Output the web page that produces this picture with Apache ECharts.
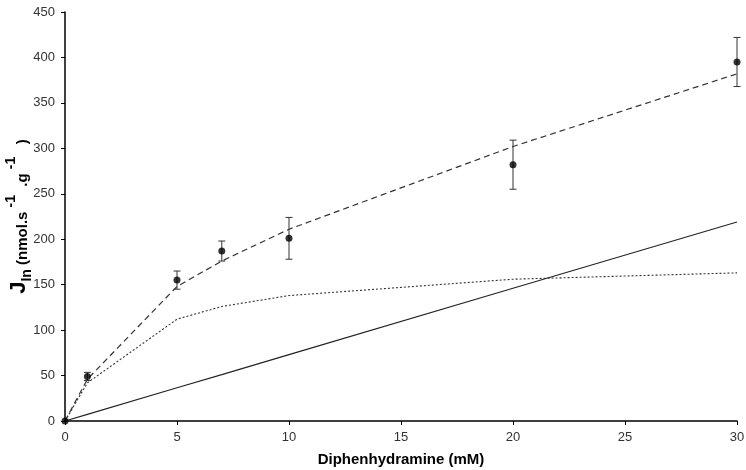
<!DOCTYPE html>
<html><head><meta charset="utf-8">
<script src="https://cdn.jsdelivr.net/npm/echarts@6/dist/echarts.min.js"></script>
<style>html,body{margin:0;padding:0;background:#fff}#c{width:746px;height:470px}</style>
</head><body><div id="c"></div>
<script>
const xTicks = [0, 5, 10, 15, 20, 25, 30];
const yTicks = [0, 50, 100, 150, 200, 250, 300, 350, 400, 450];
const concentration = [0, 1, 5, 7, 10, 20, 30];
const meanJ = [0, 49, 155, 187, 201, 282, 395];
const errJ = [0, 4.5, 10, 11, 23, 27, 27];
const totalFit = [0, 46, 148, 176, 211, 302, 382];
const saturableFit = [0, 42, 112, 126, 138, 156, 163];
const linearFit = [0, 7.3, 36.5, 51, 73, 146, 219];

const pair = (ys) => concentration.map((x, i) => [x, ys[i]]);
const errData = concentration.map((x, i) => [x, meanJ[i] - errJ[i], meanJ[i] + errJ[i]]);

const chart = echarts.init(document.getElementById('c'), null, {renderer: 'canvas'});
const font = 'Liberation Sans, Arial, sans-serif';
chart.setOption({
  animation: false,
  grid: {left: 65, right: 9, top: 12, bottom: 49, outerBoundsMode: 'none', containLabel: false},
  xAxis: {
    type: 'value', min: 0, max: 30, interval: 5,
    name: 'Diphenhydramine (mM)', nameLocation: 'middle', nameGap: 31, nameMoveOverlap: false,
    nameTextStyle: {fontFamily: font, fontWeight: 'bold', fontSize: 15, color: '#000'},
    axisLine: {lineStyle: {color: '#000', width: 1.5}},
    axisTick: {show: true, inside: false, length: 4, lineStyle: {color: '#000'}},
    axisLabel: {fontFamily: font, fontSize: 13, color: '#333', margin: 10},
    splitLine: {show: false}
  },
  yAxis: {
    type: 'value', min: 0, max: 450, interval: 50,
    name: '{j|J}{sub|In}{u| (nmol.s }{sup|-1}{u|  .g }{sup|-1}{u|   )}',
    nameLocation: 'middle', nameGap: 31, nameRotate: 90, nameMoveOverlap: false,
    nameTextStyle: {
      fontFamily: font, color: '#000',
      rich: {
        j: {fontFamily: font, fontWeight: 'bold', fontSize: 22, color: '#000', lineHeight: 30, verticalAlign: 'middle'},
        sub: {fontFamily: font, fontWeight: 'bold', fontSize: 14, color: '#000', verticalAlign: 'bottom', lineHeight: 30, padding: [10, 0, 0, 0]},
        u: {fontFamily: font, fontWeight: 'bold', fontSize: 15, color: '#000', lineHeight: 30, verticalAlign: 'middle', padding: [7, 0, 0, 0]},
        sup: {fontFamily: font, fontWeight: 'bold', fontSize: 14, color: '#000', verticalAlign: 'top', lineHeight: 30, padding: [0, 0, 6, 0]}
      }
    },
    axisLine: {show: true, lineStyle: {color: '#000', width: 1.5}},
    axisTick: {show: true, inside: false, length: 4, lineStyle: {color: '#000'}},
    axisLabel: {fontFamily: font, fontSize: 13, color: '#333', margin: 10},
    splitLine: {show: false}
  },
  series: [
    {type: 'line', data: pair(linearFit), symbol: 'none', lineStyle: {color: '#222', width: 1.1, type: 'solid'}, z: 2},
    {type: 'line', data: pair(saturableFit), symbol: 'none', lineStyle: {color: '#333', width: 1.1, type: [2, 2]}, z: 2},
    {type: 'line', data: pair(totalFit), symbol: 'none', lineStyle: {color: '#333', width: 1.2, type: [6, 4]}, z: 2},
    {
      type: 'custom', data: errData, z: 3,
      renderItem: function (params, api) {
        const x = api.value(0);
        if (api.value(2) - api.value(1) <= 0) return null;
        const lo = api.coord([x, api.value(1)]);
        const hi = api.coord([x, api.value(2)]);
        const cap = 3.5;
        const style = {stroke: '#333', lineWidth: 1};
        return {type: 'group', children: [
          {type: 'line', shape: {x1: lo[0], y1: lo[1], x2: hi[0], y2: hi[1]}, style: style},
          {type: 'line', shape: {x1: lo[0] - cap, y1: lo[1], x2: lo[0] + cap, y2: lo[1]}, style: style},
          {type: 'line', shape: {x1: hi[0] - cap, y1: hi[1], x2: hi[0] + cap, y2: hi[1]}, style: style}
        ]};
      }
    },
    {type: 'scatter', data: pair(meanJ), symbol: 'circle', symbolSize: 7, itemStyle: {color: '#000'}, z: 4}
  ]
});
</script></body></html>
